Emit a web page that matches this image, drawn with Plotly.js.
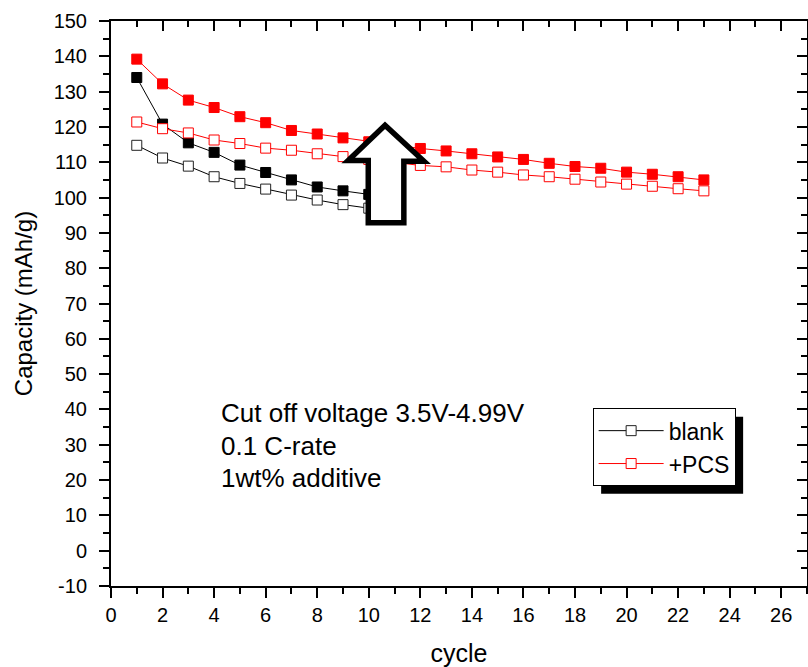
<!DOCTYPE html>
<html>
<head>
<meta charset="utf-8">
<script src="https://cdn.plot.ly/plotly-3.0.1.min.js"></script>
<style>
  html, body { margin: 0; padding: 0; background: #fff; }
  #chart { width: 808px; height: 667px; }
</style>
</head>
<body>
<div id="chart"></div>
<script>
// ---- data ----
const blankCycles = [1, 2, 3, 4, 5, 6, 7, 8, 9, 10];
const blankCharge = [134.0, 120.8, 115.5, 112.8, 109.2, 107.1, 105.0, 103.0, 101.9, 100.9];
const blankDischarge = [114.8, 111.2, 108.9, 105.9, 104.0, 102.4, 100.7, 99.3, 98.0, 97.0];

const pcsCycles = [1, 2, 3, 4, 5, 6, 7, 8, 9, 10, 11, 12, 13, 14, 15, 16, 17, 18, 19, 20, 21, 22, 23];
const pcsCharge = [139.2, 132.2, 127.6, 125.5, 122.9, 121.2, 119.0, 118.0, 116.9, 115.8, 114.9, 113.9,
                   113.2, 112.4, 111.5, 110.8, 109.7, 108.8, 108.3, 107.2, 106.6, 105.9, 105.0];
const pcsDischarge = [121.4, 119.5, 118.3, 116.3, 115.3, 114.0, 113.4, 112.4, 111.6, 110.8, 110.0, 109.1,
                      108.7, 107.8, 107.2, 106.4, 105.9, 105.2, 104.4, 103.8, 103.2, 102.5, 101.9];

const yTickVals = [-10, 0, 10, 20, 30, 40, 50, 60, 70, 80, 90, 100, 110, 120, 130, 140, 150];
const yTickText = ["-10", "0", "10", "20", "30", "40", "50", "60", "70", "80", "90", "100", "110", "120", "130", "140", "150"];
const xTickVals = [0, 2, 4, 6, 8, 10, 12, 14, 16, 18, 20, 22, 24, 26];

const seriesNames = ["blank", "+PCS"];
const xTitle = "cycle";
const yTitle = "Capacity (mAh/g)";
const noteLines = ["Cut off voltage 3.5V-4.99V", "0.1 C-rate", "1wt% additive"];
const noteY = [38.9, 29.6, 20.5];   // capacity level at which each note line sits

// ---- styling ----
const FONT = "Liberation Sans, Arial, Helvetica, sans-serif";
const BLACK = "#000000";
const RED = "#ff0000";

const traces = [
  {
    x: blankCycles, y: blankDischarge, name: seriesNames[0], type: "scatter", mode: "lines+markers",
    line: { color: BLACK, width: 1 },
    marker: { symbol: "square", size: 10, color: "#ffffff", line: { color: "#222222", width: 1 } },
    showlegend: true
  },
  {
    x: blankCycles, y: blankCharge, name: seriesNames[0] + " (charge)", type: "scatter", mode: "lines+markers",
    line: { color: BLACK, width: 1 },
    marker: { symbol: "square", size: 10, color: BLACK, line: { color: BLACK, width: 1 } },
    showlegend: false
  },
  {
    x: pcsCycles, y: pcsCharge, name: seriesNames[1] + " (charge)", type: "scatter", mode: "lines+markers",
    line: { color: RED, width: 1 },
    marker: { symbol: "square", size: 10, color: RED, line: { color: RED, width: 1 } },
    showlegend: false
  },
  {
    x: pcsCycles, y: pcsDischarge, name: seriesNames[1], type: "scatter", mode: "lines+markers",
    line: { color: RED, width: 1 },
    marker: { symbol: "square", size: 10, color: "#ffffff", line: { color: RED, width: 1 } },
    showlegend: true
  }
];

const tickFont = { family: FONT, size: 20, color: BLACK };

const layout = {
  width: 808, height: 667,
  margin: { l: 111, r: 1, t: 21, b: 81, pad: 0 },
  paper_bgcolor: "#ffffff", plot_bgcolor: "#ffffff",
  font: { family: FONT, color: BLACK },
  showlegend: true,
  xaxis: {
    range: [0, 27], tickmode: "array", tickvals: xTickVals,
    showgrid: false, zeroline: false,
    showline: true, linecolor: BLACK, linewidth: 2,
    ticks: "outside", ticklen: 10, tickwidth: 2, tickcolor: BLACK,
    minor: { dtick: 1, tick0: 0, ticks: "outside", ticklen: 6, tickwidth: 2, tickcolor: BLACK, showgrid: false },
    tickfont: tickFont, ticklabelstandoff: 0,
    title: { text: xTitle, font: { family: FONT, size: 25, color: BLACK }, standoff: 24 },
    automargin: false
  },
  yaxis: {
    range: [-10, 150], tickmode: "array", tickvals: yTickVals, ticktext: yTickText,
    showgrid: false, zeroline: false,
    showline: true, linecolor: BLACK, linewidth: 2,
    ticks: "outside", ticklen: 10, tickwidth: 2, tickcolor: BLACK,
    minor: { dtick: 5, tick0: 0, ticks: "outside", ticklen: 6, tickwidth: 2, tickcolor: BLACK, showgrid: false },
    tickfont: tickFont, ticklabelstandoff: 8,
    title: { text: yTitle, font: { family: FONT, size: 24, color: BLACK }, standoff: 14 },
    automargin: false
  },
  xaxis2: {
    overlaying: "x", side: "top", anchor: "y",
    range: [0, 27], dtick: 2, tick0: 0,
    showgrid: false, zeroline: false, showticklabels: false,
    showline: true, linecolor: BLACK, linewidth: 2,
    ticks: "inside", ticklen: 10, tickwidth: 2, tickcolor: BLACK,
    minor: { dtick: 1, ticks: "inside", ticklen: 6, tickwidth: 2, tickcolor: BLACK, showgrid: false }
  },
  yaxis2: {
    overlaying: "y", side: "right", anchor: "x",
    range: [-10, 150], dtick: 10, tick0: 0,
    showgrid: false, zeroline: false, showticklabels: false,
    showline: true, linecolor: BLACK, linewidth: 2,
    ticks: "inside", ticklen: 10, tickwidth: 2, tickcolor: BLACK,
    minor: { dtick: 5, ticks: "inside", ticklen: 6, tickwidth: 2, tickcolor: BLACK, showgrid: false }
  },
  legend: {
    x: 0.692, y: 0.3147, xanchor: "left", yanchor: "top",
    bgcolor: "#ffffff", bordercolor: BLACK, borderwidth: 1,
    font: { family: FONT, size: 23, color: BLACK },
    itemwidth: 65, tracegroupgap: 0
  },
  annotations: noteLines.map(function (t, i) {
    return {
      xref: "x", yref: "y", x: 4.2, y: noteY[i], xanchor: "left", yanchor: "middle",
      text: t, align: "left", showarrow: false,
      font: { family: FONT, size: 26, color: BLACK }
    };
  }),
  shapes: [
    // legend drop shadow (re-fitted to the legend box after drawing)
    {
      type: "rect", xref: "paper", yref: "paper",
      x0: 0.7048, x1: 0.913, y0: 0.1707, y1: 0.3023,
      fillcolor: BLACK, line: { width: 0 }, layer: "above"
    },
    // big hollow arrow
    {
      type: "path", xref: "x", yref: "y", layer: "above",
      path: "M 10.63,120.5 L 12.14,110.3 L 11.36,110.3 L 11.36,92.9 L 9.98,92.9 L 9.98,110.5 L 9.2,110.5 Z",
      fillcolor: "#ffffff", line: { color: BLACK, width: 5.5 }
    }
  ]
};

// a placeholder trace so the mirrored frame axes exist
traces.push({ x: [], y: [], xaxis: "x2", yaxis: "y2", type: "scatter", mode: "markers", showlegend: false, hoverinfo: "skip" });

const gd = document.getElementById("chart");
Plotly.newPlot(gd, traces, layout, { staticPlot: true, displayModeBar: false }).then(function () {
  // fit the drop shadow to the drawn legend box, offset 8px right/down
  const bg = gd.querySelector(".legend .bg");
  if (!bg) return;
  const r = bg.getBoundingClientRect();
  const c = gd.getBoundingClientRect();
  const s = gd._fullLayout._size;
  const off = 8;
  const px = function (x) { return (x - c.left - s.l) / s.w; };
  const py = function (y) { return 1 - (y - c.top - s.t) / s.h; };
  return Plotly.relayout(gd, {
    "shapes[0].x0": px(r.left + off), "shapes[0].x1": px(r.right + off),
    "shapes[0].y0": py(r.bottom + off), "shapes[0].y1": py(r.top + off)
  });
});
</script>
</body>
</html>
